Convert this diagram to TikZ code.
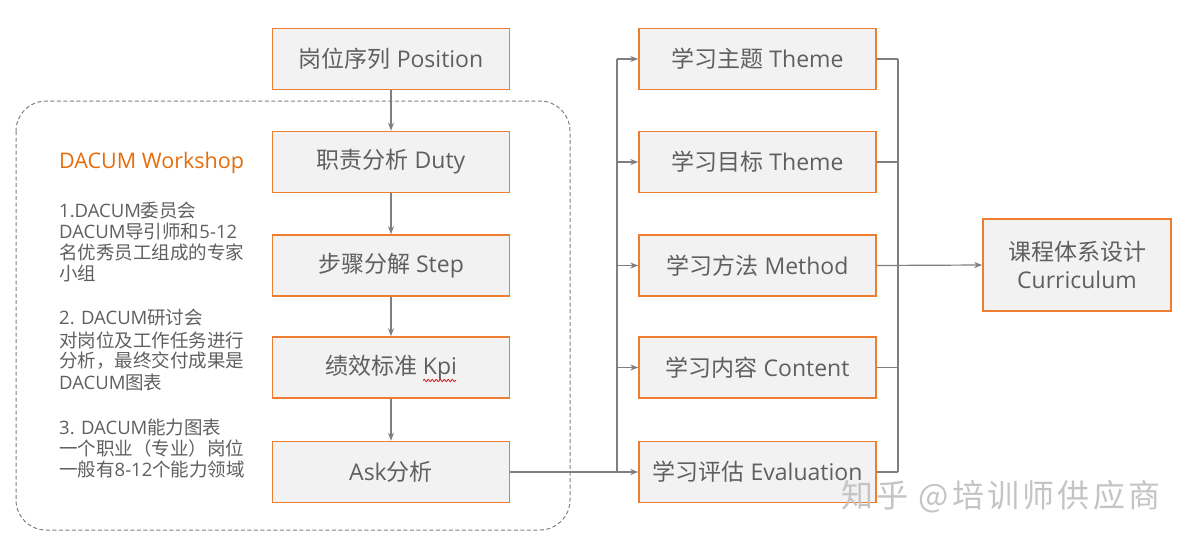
\documentclass[tikz,border=0pt]{standalone}
\usepackage{fontspec}
\setmainfont{Open Sans}
\newfontfamily\cjk{Noto Sans CJK SC}
\newfontfamily\cjkwide[LetterSpace=10]{Noto Sans CJK SC}
\newcommand\zh[1]{{\cjk #1}}
\usetikzlibrary{arrows.meta,decorations.pathmorphing}
\definecolor{boxfill}{HTML}{F2F2F2}
\definecolor{boxline}{HTML}{ED7D31}
\definecolor{txtgray}{HTML}{5F5F5F}
\definecolor{conngray}{HTML}{7F7F7F}
\definecolor{titleor}{HTML}{E46C0A}
\definecolor{wmgray}{HTML}{C4C4C4}
\begin{document}
\begin{tikzpicture}[x=1pt,y=-1pt,
  box/.style={draw=boxline, fill=boxfill, line width=1.6pt, minimum width=237pt,
    minimum height=61pt, inner sep=0pt, text=txtgray, font=\fontsize{23}{27}\selectfont},
  conn/.style={draw=conngray, line width=1.2pt},
  arr/.style={conn, -{Stealth[length=8pt,width=6pt]}},
  para/.style={anchor=west, inner sep=0pt, text=txtgray, font=\fontsize{18.5}{21}\selectfont}]
\useasboundingbox (0,0) rectangle (1200,551);

% dashed workshop frame
\draw[draw=conngray, line width=1pt, dash pattern=on 4pt off 2.5pt, rounded corners=30pt]
  (16,101) rectangle (570,530);

% left column
\node[box] (pos)  at (391,59)    {\zh{岗位序列} Position};
\node[box] (duty) at (391,162)   {\zh{职责分析} Duty};
\node[box] (step) at (391,265.5) {\zh{步骤分解} Step};
\node[box] (kpi)  at (391,367.5) {\zh{绩效标准} Kpi};
\node[box] (ask)  at (391,472)   {Ask\zh{分析}};

% right column
\node[box] (theme)  at (757.5,59)    {\zh{学习主题} Theme};
\node[box] (goal)   at (757.5,162)   {\zh{学习目标} Theme};
\node[box] (method) at (757.5,265.5) {\zh{学习方法} Method};
\node[box] (content)at (757.5,367.5) {\zh{学习内容} Content};
\node[box] (eval)   at (757.5,472)   {\zh{学习评估} Evaluation};

% curriculum
\node[box, minimum width=188pt, minimum height=92pt, align=center,
      font=\fontsize{23}{28}\selectfont] (cur) at (1077,265)
      {\zh{课程体系设计}\\Curriculum};

% spell-check wavy underline under Kpi
\draw[red!80!black, line width=0.7pt, decorate,
      decoration={snake, amplitude=1.2pt, segment length=4pt}]
  ([xshift=32pt,yshift=-13pt]kpi.center) -- ([xshift=65pt,yshift=-13pt]kpi.center);

% workshop text
\node[anchor=west, inner sep=0pt, text=titleor, font=\fontsize{21.5}{25}\selectfont] (title) at (59,163) {DACUM Workshop};
\node[para] (a1) at (59,211) {1.DACUM\zh{委员会}};
\node[para] (a2) at (59,231) {DACUM\zh{导引师和}5-12};
\node[para] (a3) at (59,252) {\zh{名优秀员工组成的专家}};
\node[para] (a4) at (59,273) {\zh{小组}};
\node[para] (b1) at (59,318) {2. DACUM\zh{研讨会}};
\node[para] (b2) at (59,340) {\zh{对岗位及工作任务进行}};
\node[para] (b3) at (59,361) {\zh{分析，最终交付成果是}};
\node[para] (b4) at (59,382) {DACUM\zh{图表}};
\node[para] (c1) at (59,427) {3. DACUM\zh{能力图表}};
\node[para] (c2) at (59,448) {\zh{一个职业（专业）岗位}};
\node[para] (c3) at (59,469) {\zh{一般有}8-12\zh{个能力领域}};

% left column arrows
\draw[arr] (pos) -- (duty);
\draw[arr] (duty) -- (step);
\draw[arr] (step) -- (kpi);
\draw[arr] (kpi) -- (ask);

% left bus
\coordinate (busL) at (617,0);
\coordinate (busR) at (898,0);
\draw[arr] (ask.east) -- (eval.west);
\draw[conn] (theme.west -| busL) -- (eval.west -| busL);
\foreach \n in {theme,goal,method,content}
  \draw[arr] (\n.west -| busL) -- (\n.west);

% right bus
\foreach \n in {theme,goal,content,eval}
  \draw[conn] (\n.east) -- (\n.east -| busR);
\draw[conn] (theme.east -| busR) -- (eval.east -| busR);
\draw[arr] (method.east) -- (cur.west);

% watermark
\node[anchor=west, inner sep=0pt, text=wmgray, font=\cjkwide\fontsize{32}{36}\selectfont] (wm) at (841,497) {知乎 @培训师供应商};
\end{tikzpicture}
\end{document}
